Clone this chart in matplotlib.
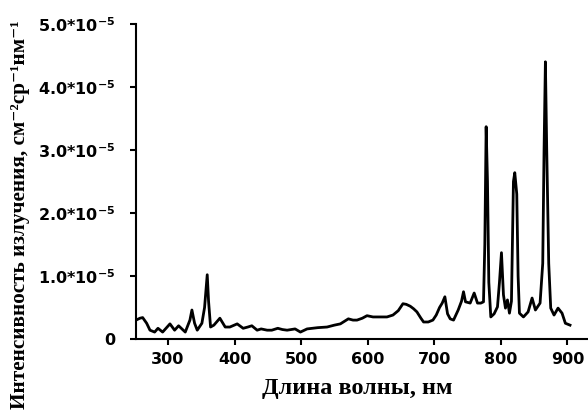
import matplotlib
matplotlib.use("Agg")
import matplotlib.pyplot as plt

plt.rcParams['mathtext.fontset'] = 'dejavusans'

wavelength = [252, 258, 262, 268, 273, 280, 285, 292, 303, 310, 316, 326, 333, 336, 340,
              344, 351, 355, 359, 361, 364, 369, 378, 386, 393, 404, 413, 420, 426, 434,
              440, 449, 456, 465, 472, 479, 485, 491, 499, 509, 525, 539, 550, 559, 565,
              571, 578, 584, 592, 599, 608, 618, 629, 638, 646, 653, 658, 664, 669, 674,
              680, 684, 691, 698, 703, 708, 712, 716, 720, 724, 729, 736, 741, 744, 747,
              754, 760, 765, 770, 774, 776, 778, 780, 782, 785, 790, 795, 798, 801, 804,
              807, 810, 813, 816, 819, 821, 824, 826, 828, 834, 841, 847, 852, 859, 863,
              865, 867, 869, 872, 875, 880, 886, 892, 897, 904]
intensity_e5 = [0.30, 0.33, 0.34, 0.25, 0.14, 0.11, 0.17, 0.11, 0.24, 0.14, 0.21, 0.11, 0.30, 0.46, 0.25,
                0.14, 0.25, 0.50, 1.02, 0.60, 0.19, 0.22, 0.33, 0.19, 0.19, 0.24, 0.17, 0.19, 0.21, 0.14,
                0.16, 0.14, 0.14, 0.17, 0.15, 0.14, 0.15, 0.16, 0.11, 0.16, 0.18, 0.19, 0.22, 0.24, 0.28,
                0.32, 0.30, 0.30, 0.33, 0.37, 0.35, 0.35, 0.35, 0.38, 0.45, 0.56, 0.55, 0.52, 0.48, 0.43,
                0.33, 0.27, 0.27, 0.30, 0.38, 0.50, 0.57, 0.67, 0.40, 0.32, 0.30, 0.46, 0.60, 0.75, 0.59,
                0.57, 0.73, 0.57, 0.57, 0.59, 1.50, 3.37, 2.50, 0.90, 0.35, 0.40, 0.51, 0.90, 1.37, 0.70,
                0.49, 0.62, 0.41, 0.60, 2.50, 2.64, 2.30, 1.00, 0.41, 0.35, 0.43, 0.65, 0.46, 0.57, 1.20,
                3.00, 4.40, 3.00, 1.20, 0.49, 0.38, 0.49, 0.41, 0.25, 0.22]
intensity = [v * 1e-5 for v in intensity_e5]

x_ticks = [300, 400, 500, 600, 700, 800, 900]
y_ticks = [0, 1e-5, 2e-5, 3e-5, 4e-5, 5e-5]
y_tick_labels = ["0", r"1.0*10$^{\mathbf{-5}}$", r"2.0*10$^{\mathbf{-5}}$",
                 r"3.0*10$^{\mathbf{-5}}$", r"4.0*10$^{\mathbf{-5}}$", r"5.0*10$^{\mathbf{-5}}$"]

fig = plt.figure(figsize=(5.88, 4.17), dpi=100)
ax = fig.add_axes([136/588, 1 - 339/417, 1 - 136/588, (339 - 24)/417])
ax.plot(wavelength, intensity, color='black', lw=2.0, solid_joinstyle='round')
ax.set_xlim(252, 931)
ax.set_ylim(0, 5e-5)
ax.set_xticks(x_ticks)
ax.set_yticks(y_ticks)
ax.set_yticklabels(y_tick_labels)
for lab in ax.get_xticklabels() + ax.get_yticklabels():
    lab.set_fontfamily('DejaVu Sans')
    lab.set_fontweight('bold')
    lab.set_fontsize(11.5)
ax.spines['top'].set_visible(False)
ax.spines['right'].set_visible(False)
ax.spines['left'].set_linewidth(1.5)
ax.spines['bottom'].set_linewidth(1.5)
ax.tick_params(axis='both', length=4.5, width=1.5, pad=5)
ax.tick_params(axis='y', pad=10)

fig.text(0.607, 0.068, "Длина волны, нм", ha='center', va='center',
         fontsize=17.5, fontweight='bold', family=['Liberation Serif', 'DejaVu Serif'])
fig.text(0.034, 1 - 20/417, "Интенсивность излучения, см⁻²ср⁻¹нм⁻¹", ha='center', va='top',
         rotation=90, fontsize=15.3, fontweight='bold', family=['Liberation Serif', 'DejaVu Serif'])

fig.savefig("out.png", dpi=100)
